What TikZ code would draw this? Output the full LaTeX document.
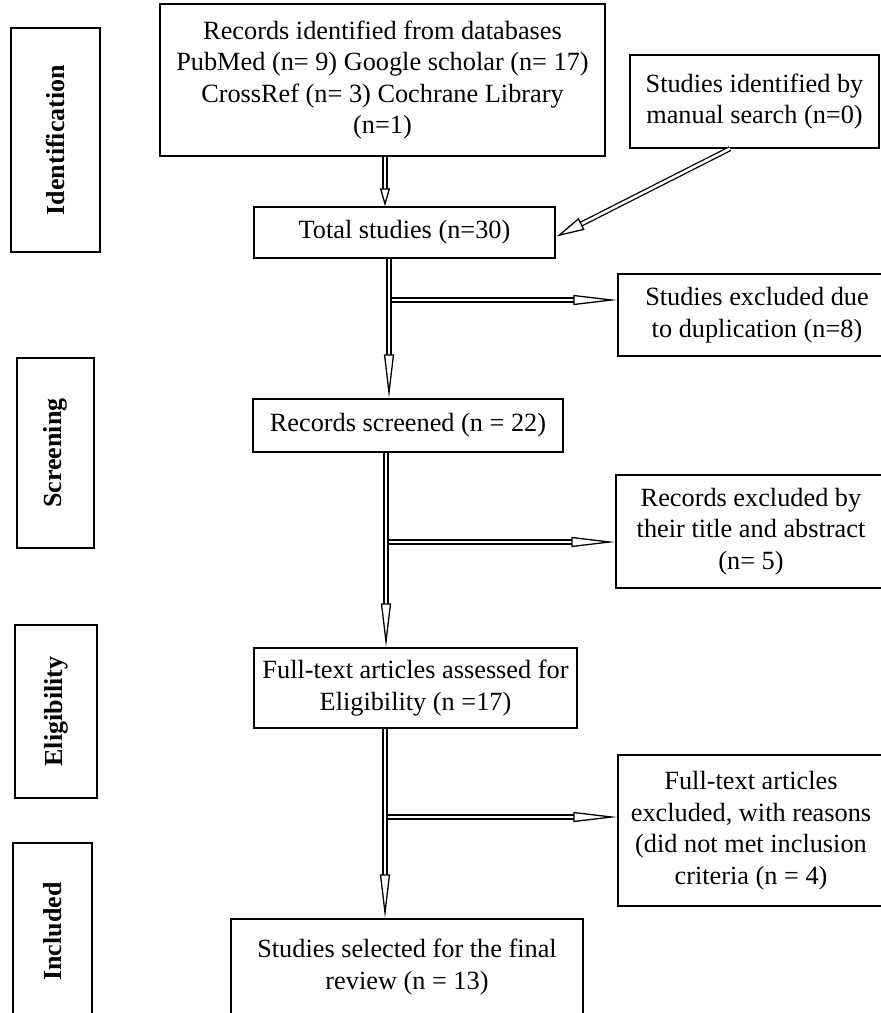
\documentclass[tikz,border=0pt]{standalone}
\usepackage{fontspec}
\setmainfont{Liberation Serif}
\usetikzlibrary{arrows.meta,calc}
\begin{document}
\begin{tikzpicture}[x=1pt,y=-1pt,
  box/.style={draw, line width=1.3pt, rectangle, align=center, inner sep=2pt,
    font=\fontsize{26.3}{31.5}\selectfont},
  phase/.style={draw, line width=1.3pt, rectangle, align=center, inner sep=0pt,
    rotate=90, font=\fontsize{26}{30}\selectfont\bfseries},
  dbl/.style={draw, line width=1.3pt, double, double distance=2.6pt},
  tipS/.style={-{Triangle[length=18pt,width=10pt,fill=white]}},
  tipD/.style={-{Triangle[length=28pt,width=13pt,fill=white]}},
  tipL/.style={-{Triangle[length=44pt,width=10pt,fill=white]}}
]
\useasboundingbox (0,0) rectangle (881,1013);
\clip (0,0) rectangle (881,1013);
\fill[white] (0,0) rectangle (881,1013);

% phase labels
\node[phase, minimum width=224pt, minimum height=89pt] (pid) at (55.5,140) {Identification};
\node[phase, minimum width=190pt, minimum height=77pt] (psc) at (55.5,453) {Screening};
\node[phase, minimum width=173pt, minimum height=82pt] (pel) at (56,711.5) {Eligibility};
\node[phase, minimum width=177pt, minimum height=79pt] (pin) at (52.5,931.5) {Included};

% main boxes
\node[box, minimum width=445pt, minimum height=152pt] (top) at (382.5,80)
  {Records identified from databases\\PubMed (n= 9) Google scholar (n= 17)\\CrossRef (n= 3) Cochrane Library\\(n=1)};
\node[box, minimum width=249pt, minimum height=93pt] (manual) at (754.5,101.5)
  {Studies identified by\\manual search (n=0)};
\node[box, minimum width=301pt, minimum height=51pt] (total) at (404.5,232.5)
  {Total studies (n=30)};
\node[box, minimum width=278pt, minimum height=82pt] (dup) at (757,315)
  {Studies excluded due\\to duplication (n=8)};
\node[box, minimum width=310pt, minimum height=53pt] (screened) at (408,425.5)
  {Records screened (n = 22)};
\node[box, minimum width=270pt, minimum height=113pt] (title) at (751,531.5)
  {Records excluded by\\their title and abstract\\(n= 5)};
\node[box, minimum width=323pt, minimum height=80pt] (fulltext) at (415.5,688)
  {Full-text articles assessed for\\Eligibility (n =17)};
\node[box, minimum width=266pt, minimum height=151pt] (fexcl) at (751,830.5)
  {Full-text articles\\excluded, with reasons\\(did not met inclusion\\criteria (n = 4)};
\node[box, minimum width=352pt, minimum height=96pt] (final) at (407,967)
  {Studies selected for the final\\review (n = 13)};

% helper coordinates
\coordinate (x1) at (385,0);
\coordinate (x2) at (730,0);
\coordinate (x3) at (389,0);
\coordinate (x4) at (386,0);
\coordinate (x5) at (385,0);
\coordinate (h1) at (391.5,300);
\coordinate (h2) at (388.5,542);
\coordinate (h3) at (387.5,817);

% connectors
\draw[dbl, tipS] (top.south -| x1) -- (total.north -| x1);
\draw[dbl, tipD] (manual.south -| x2) -- ($(total.east)+(1,4)$);
\draw[dbl, tipL] (total.south -| x3) -- (screened.north -| x3);
\draw[dbl, tipL] (h1) -- (h1 -| dup.west);
\draw[dbl, tipL] (screened.south -| x4) -- (fulltext.north -| x4);
\draw[dbl, tipL] (h2) -- (h2 -| title.west);
\draw[dbl, tipL] (fulltext.south -| x5) -- (final.north -| x5);
\draw[dbl, tipL] (h3) -- (h3 -| fexcl.west);
\end{tikzpicture}
\end{document}
